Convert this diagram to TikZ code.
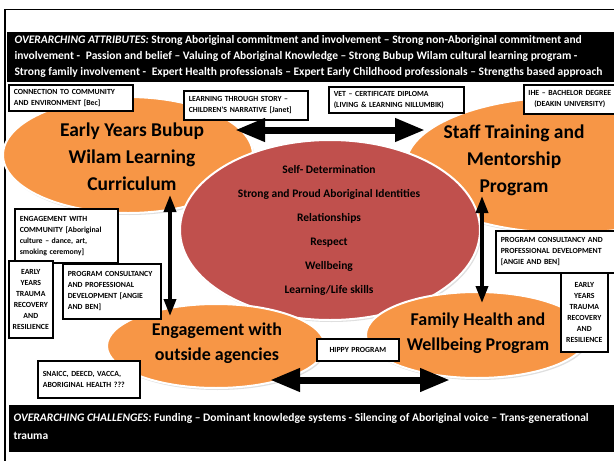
\documentclass[tikz,border=0pt]{standalone}
\usepackage{fontspec}
\setmainfont{Carlito}
\usetikzlibrary{shapes.geometric,arrows.meta,shadows}

\definecolor{ovalorange}{HTML}{F79646}
\definecolor{ovalred}{HTML}{C0504D}

\tikzset{
	oval/.style={ellipse,draw=white,line width=2pt,fill=ovalorange,inner sep=0pt,
		drop shadow={opacity=0.25,shadow xshift=1.5pt,shadow yshift=-2pt}},
	ovaltext/.style={align=center,font=\fontsize{19.5}{27}\selectfont\bfseries},
	infobox/.style={draw,fill=white,line width=1.6pt,inner xsep=5pt,inner ysep=0pt,anchor=north west,
		align=left,font=\fontsize{7.8}{11}\selectfont\bfseries},
	bartext/.style={anchor=west,align=left,text=white,font=\fontsize{11.5}{16}\selectfont\bfseries},
	bigarrow/.style={{Triangle[length=30pt,width=22pt]}-{Triangle[length=30pt,width=22pt]},line width=7pt},
	slimarrow/.style={{Triangle[length=17pt,width=12pt]}-{Triangle[length=17pt,width=12pt]},line width=3.5pt}
}

\begin{document}
\begin{tikzpicture}[x=1pt,y=-1pt]
			\useasboundingbox (0,0) rectangle (614,461);
			\fill[white] (0,0) rectangle (614,461);
			\draw[line width=2pt] (5,461) -- (5,9);
			\draw[line width=0.8pt] (5,9) -- (614,9);

			% black bars
			\fill[black] (7,32) rectangle (614,82);
			\fill[black] (9,405) rectangle (614,452);
			\node[bartext] (attributes) at (11,56) {\textit{OVERARCHING ATTRIBUTES:} Strong Aboriginal commitment and involvement -- Strong non-Aboriginal commitment and\\
				involvement -\enspace Passion and belief -- Valuing of Aboriginal Knowledge -- Strong Bubup Wilam cultural learning program -\\
				Strong family involvement -\enspace Expert Health professionals -- Expert Early Childhood professionals -- Strengths based approach};
			\node[bartext,font=\fontsize{11.5}{18}\selectfont\bfseries] (challenges) at (10,426) {\textit{OVERARCHING CHALLENGES:} Funding -- Dominant knowledge systems - Silencing of Aboriginal voice -- Trans-generational\\
				trauma};

			\begin{scope}[every node/.style={oval}]
				\node[minimum width=250pt,minimum height=116pt] (ey) at (128,155) {};
				\node[minimum width=324pt,minimum height=136pt] (st) at (568,165) {};
				\node[fill=ovalred,minimum width=300pt,minimum height=180pt] (core) at (330,230) {};
				\node[minimum width=218pt,minimum height=84pt] (en) at (216,346) {};
				\node[minimum width=222pt,minimum height=86pt] (fh) at (477,335) {};
			\end{scope}

			\begin{scope}[every node/.style={ovaltext}]
				\node (eytext) at (132,157) {Early Years Bubup\\Wilam Learning\\Curriculum};
				\node (sttext) at (514,160) {Staff Training and\\Mentorship\\Program};
				\node[font=\fontsize{18}{25}\selectfont\bfseries] (entext) at (217,343) {Engagement with\\outside agencies};
				\node[font=\fontsize{18}{25}\selectfont\bfseries] (fhtext) at (478,333) {Family Health and\\Wellbeing Program};
				\node[font=\fontsize{11.5}{24}\selectfont\bfseries] (coretext) at (329,230) {Self- Determination\\Strong and Proud Aboriginal Identities\\Relationships\\Respect\\Wellbeing\\Learning/Life skills};
			\end{scope}

			\begin{scope}[every node/.style={infobox}]
				\node[text width=114pt,minimum height=26pt] (conn) at (8,84) {CONNECTION TO COMMUNITY\\AND ENVIRONMENT [Bec]};
				\node[text width=114pt,minimum height=29pt] (story) at (183,90) {LEARNING THROUGH STORY --\\CHILDREN'S NARRATIVE [Janet]};
				\node[text width=125pt,minimum height=26pt] (vet) at (328,86) {VET -- CERTIFICATE DIPLOMA\\(LIVING \& LEARNING NILLUMBIK)};
				\node[text width=88pt,inner xsep=2pt,minimum height=29pt,align=center] (ihe) at (523,84) {IHE -- BACHELOR DEGREE\\(DEAKIN UNIVERSITY)};
				\node[text width=93pt,minimum height=54pt] (engcom) at (14,208) {ENGAGEMENT WITH\\COMMUNITY [Aboriginal\\culture -- dance, art,\\smoking ceremony]};
				\node[text width=88pt,minimum height=55pt] (pcleft) at (62,263) {PROGRAM CONSULTANCY\\AND PROFESSIONAL\\DEVELOPMENT [ANGIE\\AND BEN]};
				\node[text width=44pt,minimum height=77pt,inner xsep=0pt,align=center] (eyleft) at (8,260) {EARLY\\YEARS\\TRAUMA\\RECOVERY\\AND\\RESILIENCE};
				\node[text width=115pt,minimum height=42pt] (pcright) at (495,230) {PROGRAM CONSULTANCY AND\\PROFESSIONAL DEVELOPMENT\\{}[ANGIE AND BEN]};
				\node[text width=47pt,minimum height=79pt,inner xsep=0pt,align=center] (eyright) at (560,272) {EARLY\\YEARS\\TRAUMA\\RECOVERY\\AND\\RESILIENCE};
				\node[text width=72pt,minimum height=22pt,align=center] (hippy) at (316,338) {HIPPY PROGRAM};
				\node[text width=92pt,minimum height=37pt] (snaicc) at (37,360) {SNAICC, DEECD, VACCA,\\ABORIGINAL HEALTH ???};
			\end{scope}

			\coordinate (topL) at (235,130);
			\coordinate (topR) at (425,130);
			\coordinate (leftT) at (170,195);
			\coordinate (leftB) at (170,316);
			\coordinate (rightT) at (482,196);
			\coordinate (rightB) at (482,303);
			\coordinate (botL) at (270,380);
			\coordinate (botR) at (450,380);

			\begin{scope}
				\draw[bigarrow] (topL) -- (topR);
				\draw[bigarrow] (botL) -- (botR);
				\draw[slimarrow] (leftT) -- (leftB);
				\draw[slimarrow] (rightT) -- (rightB);
			\end{scope}
		\end{tikzpicture}
\end{document}
